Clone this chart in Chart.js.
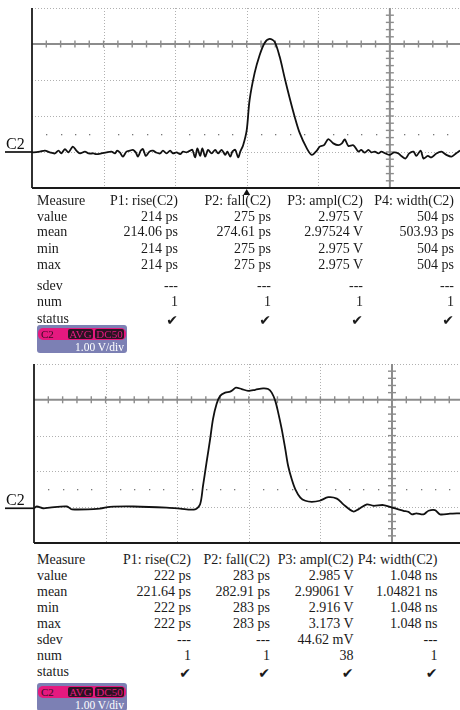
<!DOCTYPE html>
<html>
<head>
<meta charset="utf-8">
<script src="https://cdn.jsdelivr.net/npm/chart.js@4.4.1/dist/chart.umd.min.js"></script>
<style>
body { margin: 0; background: #fff; width: 460px; height: 710px; overflow: hidden; position: relative; font-family: "Liberation Serif", serif; color: #1a1a1a; }
canvas { position: absolute; left: 0; }
.t { position: absolute; font-size: 14px; line-height: 14px; white-space: nowrap; }
.r { text-align: right; }
.ck { font-family: "DejaVu Sans", sans-serif; font-size: 14px; }
.badge { position: absolute; left: 37px; width: 90px; height: 28px; background: #7c80b4; border-radius: 3px; overflow: hidden; }
.pill { position: absolute; left: 1px; top: 3px; width: 88px; height: 12px; background: #e5197f; border-radius: 5px; }
.pill span { position: absolute; top: 0; font-size: 11px; line-height: 12px; }
.pill .c { left: 3px; color: #3a0a22; }
.pill .b { top: 1px; height: 10px; line-height: 10px; background: #2b1323; color: #e5197f; border-radius: 2px; text-align: center; }
.vdiv { position: absolute; right: 3px; top: 16px; font-size: 11.5px; line-height: 12px; color: #fff; }
</style>
</head>
<body>
<canvas id="scope1" width="460" height="197" style="top:0px"></canvas>
<canvas id="scope2" width="460" height="190" style="top:356px"></canvas>
<div id="tables"></div>

<script>
// waveform 1 (ns, V)
var time1 = [0, 0.02, 0.11, 0.18, 0.25, 0.32, 0.37, 0.41, 0.46, 0.51, 0.57, 0.62, 0.67, 0.74, 0.79, 0.86, 0.90, 0.97,
    1.04, 1.11, 1.16, 1.19, 1.23, 1.27, 1.32, 1.37, 1.41, 1.45, 1.48, 1.52, 1.55, 1.59, 1.64, 1.69, 1.73, 1.79, 1.83,
    1.88, 1.93, 1.97, 2.02, 2.07, 2.11, 2.16, 2.21, 2.24, 2.28, 2.31, 2.35, 2.38, 2.42, 2.46, 2.51, 2.56, 2.60, 2.65,
    2.70, 2.73, 2.77, 2.80, 2.84, 2.88, 2.91, 2.95, 3.00, 3.04, 3.11, 3.18, 3.25, 3.32, 3.39, 3.46, 3.53, 3.60, 3.67,
    3.74, 3.84, 3.91, 3.98, 4.02, 4.08, 4.14, 4.21, 4.28, 4.33, 4.37, 4.42, 4.49, 4.56, 4.60, 4.65, 4.70, 4.74, 4.79,
    4.84, 4.88, 4.94, 5.00, 5.06, 5.12, 5.16, 5.22, 5.27, 5.33, 5.37, 5.43, 5.47, 5.53, 5.58, 5.65, 5.72, 5.79, 5.86,
    5.91, 5.98];
var volt1 = [0, -0.01, 0.01, 0.04, -0.01, -0.04, 0.04, -0.04, 0.08, -0.01, 0.15, 0.04, -0.04, 0.01, -0.04, -0.04, -0.06, -0.04,
    -0.01, 0.01, -0.04, 0.04, -0.02, -0.13, 0.01, 0.04, 0.06, -0.01, -0.13, 0.04, 0.08, -0.11, 0.01, 0.04, -0.01, -0.04, 0.04,
    -0.04, 0.04, -0.04, -0.01, -0.06, 0.01, -0.01, 0.04, 0.06, -0.15, 0.10, -0.11, 0.10, -0.13, 0.06, -0.04, 0.06, -0.04, 0.06,
    -0.08, 0.01, -0.13, 0.01, 0.06, -0.15, 0.01, 0.19, 0.61, 1.44, 2.19, 2.69, 3.03, 3.14, 3.06, 2.65, 2.06, 1.50, 0.98,
    0.53, 0.10, -0.08, 0.04, 0.15, 0.19, 0.36, 0.24, 0.19, 0.24, 0.35, 0.17, 0.19, 0.01, 0.06, -0.02, 0.06, -0.01, 0.01,
    -0.04, 0.01, -0.04, -0.08, -0.01, -0.04, -0.11, -0.18, -0.04, 0.01, -0.11, 0.04, -0.18, -0.11, -0.15, -0.04, 0.01, -0.08, -0.13,
    -0.06, 0.04];

// waveform 2 (ns, V)
var time2 = [0, 0.04, 0.13, 0.22, 0.46, 0.53, 0.92, 1.06, 1.39, 1.85, 2.04, 2.25, 2.32, 2.36, 2.41, 2.46, 2.50, 2.55,
    2.60, 2.67, 2.74, 2.78, 2.82, 2.90, 2.99, 3.09, 3.20, 3.27, 3.32, 3.37, 3.41, 3.46, 3.51, 3.55, 3.60, 3.65, 3.72,
    3.79, 3.88, 3.99, 4.11, 4.23, 4.32, 4.46, 4.53, 4.65, 4.74, 4.88, 5.00, 5.09, 5.16, 5.23, 5.28, 5.34, 5.44, 5.51,
    5.60, 5.67, 5.81, 5.95];
var volt2 = [-0.03, 0.02, -0.03, -0.01, 0.02, -0.06, -0.04, 0.01, 0.02, -0.01, -0.04, -0.06, 0.08, 0.59, 1.25, 1.90, 2.46, 2.88,
    3.11, 3.20, 3.23, 3.28, 3.34, 3.30, 3.25, 3.28, 3.32, 3.30, 3.20, 2.97, 2.65, 2.18, 1.62, 1.15, 0.78, 0.50, 0.27,
    0.18, 0.15, 0.18, 0.28, 0.24, 0.08, -0.12, -0.06, 0.08, 0.04, 0.06, -0.01, -0.06, -0.10, -0.13, -0.20, -0.17, -0.20, -0.10,
    -0.08, -0.20, -0.18, -0.17];

// screen grid (1 ns/div, 1 V/div)
var gridTimes = [1, 2, 3, 4];
var gridVolts = [4, 2, 1, 0];
var axisTime = 5;
var axisVolt = 3;
var dotVolt = 0.5;

// measurement tables
var rowNames = ["value", "mean", "min", "max", "sdev", "num", "status"];
var colHeads = ["P1: rise(C2)", "P2: fall(C2)", "P3: ampl(C2)", "P4: width(C2)"];
var meas1 = [
    ["214 ps", "275 ps", "2.975 V", "504 ps"],
    ["214.06 ps", "274.61 ps", "2.97524 V", "503.93 ps"],
    ["214 ps", "275 ps", "2.975 V", "504 ps"],
    ["214 ps", "275 ps", "2.975 V", "504 ps"],
    ["---", "---", "---", "---"],
    ["1", "1", "1", "1"],
    ["✔", "✔", "✔", "✔"]
];
var meas2 = [
    ["222 ps", "283 ps", "2.985 V", "1.048 ns"],
    ["221.64 ps", "282.91 ps", "2.99061 V", "1.04821 ns"],
    ["222 ps", "283 ps", "2.916 V", "1.048 ns"],
    ["222 ps", "283 ps", "3.173 V", "1.048 ns"],
    ["---", "---", "44.62 mV", "---"],
    ["1", "1", "38", "1"],
    ["✔", "✔", "✔", "✔"]
];

function dibuja_linea(ctx, x1, y1, x2, y2) {
    ctx.beginPath();
    ctx.moveTo(x1, y1);
    ctx.lineTo(x2, y2);
    ctx.stroke();
}

var scopeGrid = {
    id: "scopeGrid",
    beforeDatasetsDraw: function (chart) {
        var ctx = chart.ctx, a = chart.chartArea;
        var xs = chart.scales.x, ys = chart.scales.y;
        ctx.save();
        // dotted graticule
        ctx.strokeStyle = "#b0b0b0";
        ctx.lineWidth = 1;
        ctx.setLineDash([1, 2]);
        gridTimes.forEach(function (t) {
            var x = Math.round(xs.getPixelForValue(t)) + 0.5;
            dibuja_linea(ctx, x, a.top, x, a.bottom);
        });
        gridVolts.forEach(function (v) {
            var y = Math.round(ys.getPixelForValue(v)) + 0.5;
            dibuja_linea(ctx, a.left, y, a.right, y);
        });
        ctx.setLineDash([]);
        // row of dots
        ctx.fillStyle = "#777";
        var yd = ys.getPixelForValue(dotVolt);
        for (var k = 1; k < 30; k++) {
            if (k % 5 == 0) continue;
            var xd = xs.getPixelForValue(k * 0.2);
            ctx.fillRect(Math.round(xd), Math.round(yd), 1.3, 1.3);
        }
        // solid centre axes with minor ticks
        ctx.strokeStyle = "#8c8c8c";
        ctx.lineWidth = 2;
        var ya = ys.getPixelForValue(axisVolt);
        var xa = xs.getPixelForValue(axisTime);
        dibuja_linea(ctx, a.left, ya, a.right, ya);
        dibuja_linea(ctx, xa, a.top, xa, a.bottom);
        ctx.lineWidth = 1.4;
        for (var i = 1; i < 30; i++) {
            var xt = xs.getPixelForValue(i * 0.2);
            dibuja_linea(ctx, xt, ya - 3.5, xt, ya + 3.5);
        }
        for (var j = -4; j < 20; j++) {
            var yt = ys.getPixelForValue(j * 0.2);
            dibuja_linea(ctx, xa - 4, yt, xa + 4, yt);
        }
        // frame
        ctx.strokeStyle = "#1a1a1a";
        ctx.lineWidth = 1.8;
        dibuja_linea(ctx, a.left, a.top, a.left, a.bottom);
        dibuja_linea(ctx, a.left, a.bottom, a.right, a.bottom);
        ctx.restore();
    },
    afterDraw: function (chart, args, opts) {
        var ctx = chart.ctx, a = chart.chartArea;
        var xs = chart.scales.x, ys = chart.scales.y;
        ctx.save();
        var y0 = ys.getPixelForValue(chart.data.datasets[0].data[0].y);
        ctx.strokeStyle = "#111";
        ctx.lineWidth = 1.7;
        dibuja_linea(ctx, 5, y0, a.left, y0);
        ctx.fillStyle = "#111";
        ctx.font = "16px 'Liberation Serif'";
        ctx.textBaseline = "alphabetic";
        ctx.fillText("C2", 6, y0 - 3);
        if (opts.trigger != null) {
            var xt = xs.getPixelForValue(opts.trigger);
            ctx.beginPath();
            ctx.moveTo(xt, a.bottom + 1);
            ctx.lineTo(xt - 3.5, a.bottom + 7);
            ctx.lineTo(xt + 3.5, a.bottom + 7);
            ctx.closePath();
            ctx.fill();
        }
        ctx.restore();
    }
};

function grafica_scope(id, tiempos, voltios, xmax, pad, trigger) {
    var puntos = [];
    for (var i = 0; i < tiempos.length; i++) {
        puntos.push({ x: tiempos[i], y: voltios[i] });
    }
    return new Chart(document.getElementById(id), {
        type: "line",
        data: {
            datasets: [{
                data: puntos,
                borderColor: "#111",
                borderWidth: 1.8,
                pointRadius: 0,
                tension: 0.3,
                fill: false
            }]
        },
        options: {
            responsive: false,
            animation: false,
            layout: { padding: pad },
            plugins: {
                legend: { display: false },
                tooltip: { enabled: false },
                scopeGrid: { trigger: trigger }
            },
            scales: {
                x: { type: "linear", display: false, min: 0, max: xmax },
                y: { type: "linear", display: false, min: -1, max: 4 }
            }
        },
        plugins: [scopeGrid]
    });
}

function crea_texto(txt, left, top, width, clase) {
    var d = document.createElement("div");
    d.className = "t " + (clase || "");
    d.textContent = txt;
    d.style.top = top + "px";
    if (width) {
        d.style.left = (left - width) + "px";
        d.style.width = width + "px";
    } else {
        d.style.left = left + "px";
    }
    document.getElementById("tables").appendChild(d);
}

function crea_tabla(tops, colRights, datos) {
    crea_texto("Measure", 37, tops[0]);
    colHeads.forEach(function (h, c) { crea_texto(h, colRights[c], tops[0], 120, "r"); });
    rowNames.forEach(function (n, r) {
        crea_texto(n, 37, tops[r + 1]);
        datos[r].forEach(function (v, c) {
            if (n == "status") {
                crea_texto(v, colRights[c], tops[r + 1] + 1, 40, "r ck");
            } else {
                crea_texto(v, colRights[c], tops[r + 1], 120, "r");
            }
        });
    });
}

function crea_badge(top) {
    var b = document.createElement("div");
    b.className = "badge";
    b.style.top = top + "px";
    b.innerHTML = '<div class="pill"><span class="c">C2</span>' +
        '<span class="b" style="left:30px;width:25px">AVG</span>' +
        '<span class="b" style="left:57px;width:29px">DC50</span></div>' +
        '<div class="vdiv">1.00 V/div</div>';
    document.body.appendChild(b);
}

grafica_scope("scope1", time1, volt1, 5.98, { left: 32, top: 8, right: 0, bottom: 9 }, 3);
grafica_scope("scope2", time2, volt2, 5.95, { left: 34, top: 8, right: 0, bottom: 3 }, null);

crea_tabla([194, 210, 225, 241.5, 258.3, 279, 295, 311.5], [178, 271, 363, 454], meas1);
crea_tabla([553.3, 569.3, 585, 601, 616.6, 633.3, 649, 665], [191, 270, 353.5, 437.5], meas2);
crea_badge(325);
crea_badge(683);
</script>
</body>
</html>
